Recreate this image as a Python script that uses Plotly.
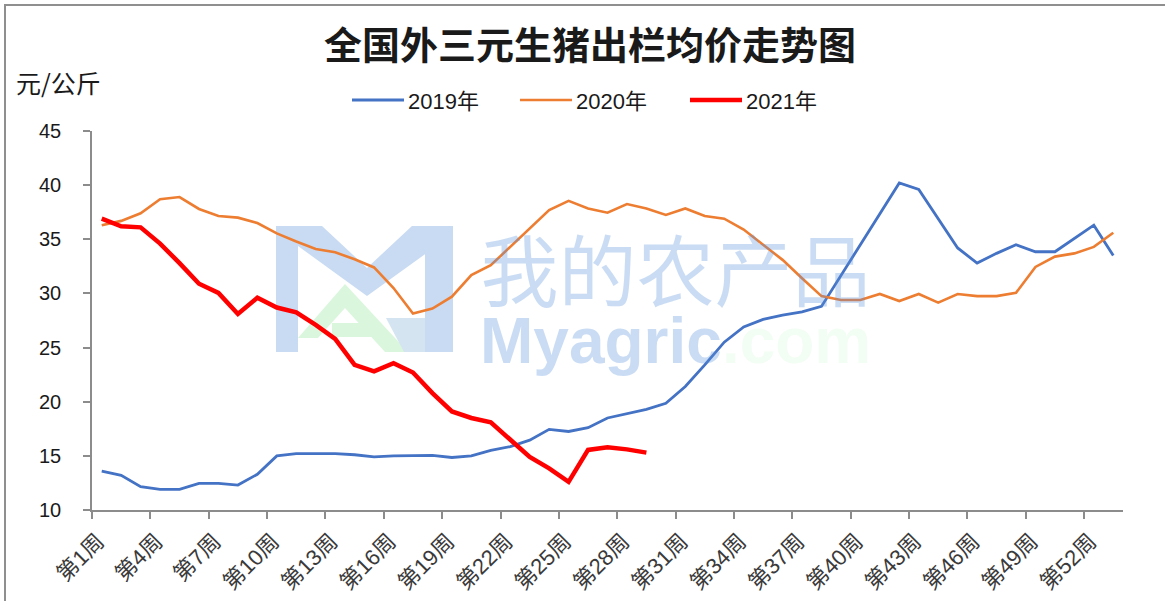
import plotly.graph_objects as go

# ---------------- data ----------------
weeks = [f"第{i}周" for i in range(1, 54)]
week_num = list(range(1, 54))

price_2019 = [13.6, 13.2, 12.15, 11.9, 11.9, 12.45, 12.45, 12.3, 13.3, 15.0,
              15.2, 15.2, 15.2, 15.1, 14.9, 15.0, 15.05, 15.05, 14.85, 15.0,
              15.5, 15.85, 16.45, 17.45, 17.25, 17.6, 18.5, 18.9, 19.3, 19.85,
              21.4, 23.4, 25.5, 26.9, 27.6, 28.0, 28.3, 28.8, 31.65, 34.5,
              37.35, 40.2, 39.6, 36.9, 34.2, 32.8, 33.7, 34.5, 33.85, 33.85,
              35.1, 36.3, 33.5]
price_2020 = [36.3, 36.7, 37.4, 38.7, 38.9, 37.8, 37.15, 37.0, 36.5, 35.55,
              34.8, 34.1, 33.8, 33.15, 32.4, 30.5, 28.15, 28.6, 29.7, 31.7,
              32.6, 34.3, 36.0, 37.7, 38.55, 37.85, 37.45, 38.25, 37.85, 37.25,
              37.85, 37.15, 36.9, 35.9, 34.5, 33.1, 31.4, 29.75, 29.4, 29.4,
              29.95, 29.3, 29.95, 29.15, 29.95, 29.75, 29.75, 30.05, 32.45, 33.4,
              33.7, 34.3, 35.6]
price_2021 = [36.9, 36.2, 36.1, 34.6, 32.8, 30.9, 30.05, 28.1, 29.6, 28.7,
              28.25, 27.1, 25.8, 23.4, 22.8, 23.55, 22.7, 20.8, 19.1, 18.5,
              18.1, 16.5, 14.9, 13.85, 12.6, 15.55, 15.8, 15.6, 15.3]

series_names = ["2019年", "2020年", "2021年"]
y_ticks = [10, 15, 20, 25, 30, 35, 40, 45]

title_text = "全国外三元生猪出栏均价走势图"
unit_text = "元/公斤"

# ---------------- style ----------------
W, H = 1165, 601
ML, MR, MT, MB = 92, 42, 131, 91
PW = W - ML - MR
PH = H - MT - MB

def px(x):
    return (x - ML) / PW

def py(y):
    return (H - MB - y) / PH

CJK = "Liberation Sans, Noto Sans CJK SC, sans-serif"

fig = go.Figure()

colors = ["#4472C4", "#ED7D31", "#FF0000"]
widths = [2.8, 2.6, 4.5]
for name, vals, c, w in zip(series_names, [price_2019, price_2020, price_2021], colors, widths):
    fig.add_trace(go.Scatter(
        x=week_num[:len(vals)], y=vals, mode="lines", name=name,
        line=dict(color=c, width=w), hoverinfo="skip", showlegend=False))

shapes = []
annotations = []

# outer frame (top & left visible)
shapes.append(dict(type="rect", xref="paper", yref="paper",
                   x0=px(5), x1=px(1175), y0=py(612), y1=py(5),
                   line=dict(color="#8f8f8f", width=2), fillcolor="rgba(0,0,0,0)"))

# legend drawn as line samples + labels
legend_x = [352, 520, 690]
legend_y = 100
for name, c, w, lx in zip(series_names, colors, widths, legend_x):
    shapes.append(dict(type="line", xref="paper", yref="paper",
                       x0=px(lx), x1=px(lx + 52), y0=py(legend_y), y1=py(legend_y),
                       line=dict(color=c, width=w)))
    annotations.append(dict(text=name, xref="paper", yref="paper", x=px(lx + 54), y=py(legend_y + 1),
                            xanchor="left", yanchor="middle", showarrow=False,
                            font=dict(family=CJK, size=22, color="#1a1a1a")))

# watermark logo (decoration)
def poly(points, fill):
    d = "M " + " L ".join(f"{px(a):.5f},{py(b):.5f}" for a, b in points) + " Z"
    return dict(type="path", xref="paper", yref="paper", path=d,
                fillcolor=fill, line=dict(width=0), layer="below")

wm_blue = "rgba(200,219,243,1)"
wm_green = "rgba(218,247,221,1)"
shapes.append(poly([(276, 226), (298, 226), (298, 352), (276, 352)], wm_blue))
shapes.append(poly([(425, 226), (453, 226), (453, 352), (425, 352)], wm_blue))
shapes.append(poly([(276, 226), (322, 226), (367, 268), (412, 226), (453, 226),
                    (453, 234), (367, 296), (298, 246), (276, 246)], wm_blue))
shapes.append(poly([(298, 338), (345, 284), (408, 352), (385, 352), (345, 308), (318, 338)], wm_green))
shapes.append(poly([(332, 323), (370, 323), (382, 337), (332, 337)], wm_green))
shapes.append(poly([(386, 318), (425, 318), (425, 352), (404, 352)], "rgba(212,228,241,1)"))

wm_text = ("<span style='font-family:Noto Sans CJK SC;font-size:78px'>我的农产品</span><br>"
           "<span style='font-weight:bold;font-size:64px'>Myagric</span>"
           "<span style='font-weight:bold;font-size:64px;color:rgba(130,235,140,0.32)'>.com</span>")

annotations += [
    dict(text=wm_text, xref="paper", yref="paper", x=px(675), y=py(294),
         xanchor="center", yanchor="middle", showarrow=False, align="center",
         font=dict(family="Liberation Sans", size=48, color="rgba(90,145,220,0.32)")),
    dict(text=unit_text, xref="paper", yref="paper", x=px(14), y=py(82),
         xanchor="left", yanchor="middle", showarrow=False,
         font=dict(family="Noto Sans CJK SC", size=25, color="#1a1a1a")),
]

fig.update_layout(
    width=W, height=H,
    margin=dict(l=ML, r=MR, t=MT, b=MB, pad=0, autoexpand=False),
    paper_bgcolor="white", plot_bgcolor="rgba(0,0,0,0)",
    title=dict(text=f"<b>{title_text}</b>", x=590 / W, xref="container", xanchor="center",
               y=1 - 46 / H, yref="container", yanchor="middle",
               font=dict(family="Noto Sans CJK SC", size=38, color="#1a1a1a")),
    shapes=shapes, annotations=annotations,
    showlegend=False,
)

label_shift = 0.2  # rotated labels: top-right corner sits near the category centre
fig.update_xaxes(
    range=[0.5, 53.5], tickmode="array",
    tickvals=[w - label_shift for w in week_num[::3]], ticktext=weeks[::3],
    tickangle=-45, ticks="", ticklen=0, showgrid=False, zeroline=False, automargin=False,
    showline=True, linecolor="#8c8c8c", linewidth=1.5, ticklabelstandoff=8,
    tickfont=dict(family=CJK, size=22, color="#3a3a3a"),
    minor=dict(tickmode="array", tickvals=[0.5 + 3 * k for k in range(18)],
               ticks="outside", ticklen=7, tickcolor="#8c8c8c", tickwidth=1.5, showgrid=False),
)
fig.update_yaxes(
    range=[10, 45], tickmode="array", tickvals=y_ticks, ticks="outside", ticklen=7,
    tickcolor="#8c8c8c", tickwidth=1.5, showgrid=False, zeroline=False, automargin=False,
    showline=True, linecolor="#8c8c8c", linewidth=1.5, ticklabelstandoff=18,
    tickfont=dict(family="Liberation Sans", size=20, color="#1a1a1a"),
)

fig.write_html("out.html", config={"displayModeBar": False},
               post_script="document.body.style.margin='0';")
